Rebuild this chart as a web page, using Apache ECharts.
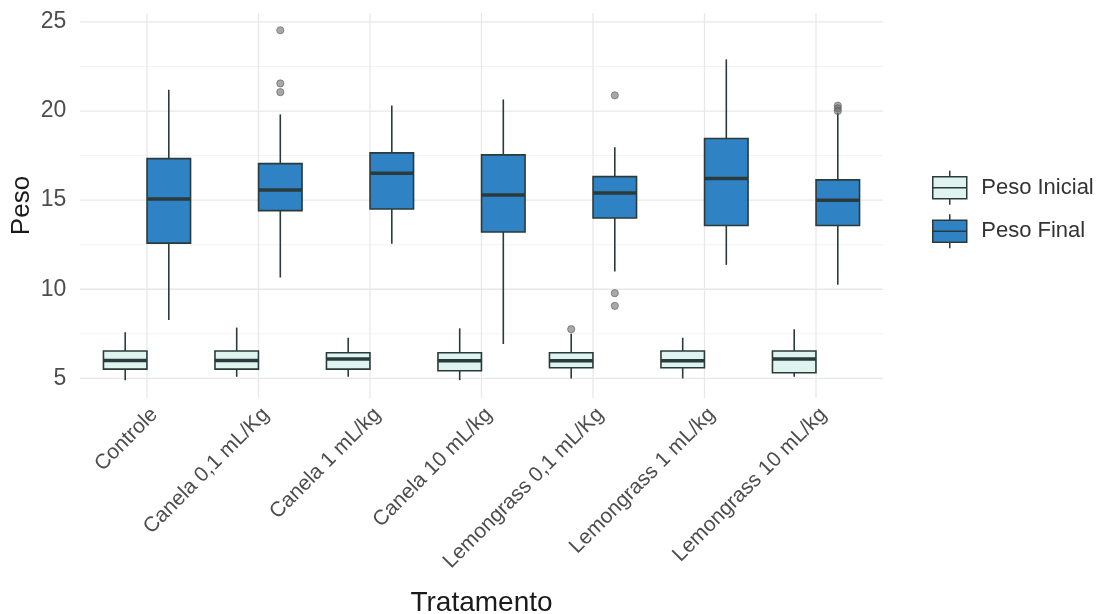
<!DOCTYPE html>
<html>
<head>
<meta charset="utf-8">
<script src="https://cdn.jsdelivr.net/npm/echarts@6/dist/echarts.min.js"></script>
<style>html,body{margin:0;padding:0;background:#fff;}#c{width:1104px;height:614px;}</style>
</head>
<body>
<div id="c"></div>
<script>
const categories = ['Controle', 'Canela 0,1 mL/Kg', 'Canela 1 mL/kg', 'Canela 10 mL/kg', 'Lemongrass 0,1 mL/Kg', 'Lemongrass 1 mL/kg', 'Lemongrass 10 mL/kg'];
// [lower whisker, Q1, median, Q3, upper whisker]
const pesoInicial = [
  [4.90, 5.52, 6.01, 6.54, 7.59],
  [5.09, 5.52, 6.01, 6.54, 7.85],
  [5.09, 5.52, 6.09, 6.44, 7.28],
  [4.90, 5.43, 5.99, 6.44, 7.81],
  [5.00, 5.60, 5.99, 6.44, 7.50],
  [5.00, 5.60, 5.99, 6.54, 7.28],
  [5.09, 5.32, 6.09, 6.54, 7.76]
];
const pesoFinal = [
  [8.28, 12.59, 15.07, 17.33, 21.20],
  [10.66, 14.41, 15.57, 17.05, 19.81],
  [12.55, 14.50, 16.51, 17.65, 20.31],
  [6.93, 13.21, 15.29, 17.54, 20.65],
  [11.00, 14.00, 15.40, 16.32, 17.97],
  [11.37, 13.58, 16.21, 18.46, 22.90],
  [10.25, 13.58, 14.99, 16.14, 19.90]
];
// [category index, value]
const outliersInicial = [[4, 7.76]];
const outliersFinal = [[1, 24.53], [1, 21.55], [1, 21.06], [4, 20.88], [4, 9.78], [4, 9.07], [6, 20.30], [6, 20.15], [6, 20.00]];
const yTicks = [5, 10, 15, 20, 25];
const yMinor = [7.5, 12.5, 17.5, 22.5];
const seriesNames = ['Peso Inicial', 'Peso Final'];

const Y_MIN = 3.9, Y_MAX = 25.5;
const colInicial = '#dff3ef';
const colFinal = '#2f83c5';
const edge = '#2b3b3b';
const boxPct = 0.39;
const EXPAND = 0.6;
const FONT = 'Liberation Sans, Arial, sans-serif';

function offsetFor(bandWidth, idx) {
  const avail = bandWidth * 0.8 - 2;
  return (idx === 0 ? -1 : 1) * avail / 4;
}

function boxRender(idx, fill) {
  return function (params, api) {
    const i = api.value(0);
    const bw = api.size([1, 0])[0];
    const cx = api.coord([i, 0])[0] + offsetFor(bw, idx);
    const w = bw * boxPct;
    const yLo = api.coord([i, api.value(1)])[1];
    const yQ1 = api.coord([i, api.value(2)])[1];
    const yMed = api.coord([i, api.value(3)])[1];
    const yQ3 = api.coord([i, api.value(4)])[1];
    const yHi = api.coord([i, api.value(5)])[1];
    const lineStyle = { stroke: edge, lineWidth: 1.6 };
    return {
      type: 'group',
      children: [
        { type: 'line', shape: { x1: cx, y1: yHi, x2: cx, y2: yQ3 }, style: lineStyle },
        { type: 'line', shape: { x1: cx, y1: yQ1, x2: cx, y2: yLo }, style: lineStyle },
        { type: 'rect', shape: { x: cx - w / 2, y: yQ3, width: w, height: yQ1 - yQ3 }, style: { fill: fill, stroke: edge, lineWidth: 1.6 } },
        { type: 'line', shape: { x1: cx - w / 2, y1: yMed, x2: cx + w / 2, y2: yMed }, style: { stroke: edge, lineWidth: 3.5 } }
      ]
    };
  };
}
function outlierRender(idx) {
  return function (params, api) {
    const p = api.coord([api.value(0), api.value(1)]);
    const bw = api.size([1, 0])[0];
    return {
      type: 'circle',
      shape: { cx: p[0] + offsetFor(bw, idx), cy: p[1], r: 3.6 },
      style: { fill: 'rgba(110,110,110,0.6)', stroke: 'rgba(90,90,90,0.6)', lineWidth: 1 }
    };
  };
}
function hGridRender(params, api) {
  const bw = api.size([1, 0])[0];
  const x0 = api.coord([0, 0])[0] - EXPAND * bw;
  const x1 = api.coord([categories.length - 1, 0])[0] + EXPAND * bw;
  const v = api.value(0);
  const y = api.coord([0, v])[1];
  const major = api.value(1) === 1;
  return {
    type: 'line',
    shape: { x1: x0, y1: y, x2: x1, y2: y },
    style: { stroke: major ? '#e8e8e8' : '#f3f3f3', lineWidth: major ? 1.3 : 1 }
  };
}
function vGridRender(params, api) {
  const i = api.value(0);
  const x = api.coord([i, Y_MIN])[0];
  const y0 = api.coord([i, Y_MIN])[1];
  const y1 = api.coord([i, Y_MAX])[1];
  return {
    type: 'line',
    shape: { x1: x, y1: y0, x2: x, y2: y1 },
    style: { stroke: '#e8e8e8', lineWidth: 1.3 }
  };
}

const legendIcon = 'path://M0,6 L34,6 L34,28 L0,28 Z M0,17 L34,17 M17,0 L17,6 M17,28 L17,34';

const chart = echarts.init(document.getElementById('c'));
chart.setOption({
  animation: false,
  backgroundColor: '#ffffff',
  textStyle: { fontFamily: FONT },
  grid: { left: 91.25, right: 232.25, top: 13, bottom: 216, outerBoundsMode: 'none', containLabel: false },
  legend: {
    orient: 'vertical',
    left: 927,
    top: 165,
    itemWidth: 35,
    itemHeight: 34,
    itemGap: 8,
    data: [
      { name: seriesNames[0], icon: legendIcon, itemStyle: { color: colInicial, borderColor: edge, borderWidth: 1.5 } },
      { name: seriesNames[1], icon: legendIcon, itemStyle: { color: colFinal, borderColor: edge, borderWidth: 1.5 } }
    ],
    textStyle: { fontSize: 22, color: '#333333', fontFamily: FONT, padding: [0, 0, 0, 9] }
  },
  xAxis: {
    type: 'category',
    data: categories,
    name: 'Tratamento',
    nameLocation: 'middle',
    nameGap: 191,
    nameTextStyle: { fontSize: 28, color: '#1a1a1a', fontFamily: FONT },
    axisLine: { show: false },
    axisTick: { show: false },
    splitLine: { show: false },
    axisLabel: { rotate: 45, fontSize: 21, color: '#4d4d4d', margin: 6, interval: 0, verticalAlign: 'top', fontFamily: FONT }
  },
  yAxis: {
    type: 'value',
    min: Y_MIN,
    max: Y_MAX,
    name: 'Peso',
    nameLocation: 'middle',
    nameGap: 56,
    nameMoveOverlap: false,
    nameTextStyle: { fontSize: 26, color: '#1a1a1a', fontFamily: FONT },
    axisLine: { show: false },
    axisTick: { show: false, customValues: yTicks },
    splitLine: { show: false },
    axisLabel: { fontSize: 23, color: '#4d4d4d', margin: 25, customValues: yTicks, fontFamily: FONT }
  },
  series: [
    {
      type: 'custom', name: 'hgrid', silent: true, z: 0, clip: false,
      data: yTicks.map(v => [v, 1]).concat(yMinor.map(v => [v, 0])),
      encode: { x: -1, y: 0 },
      renderItem: hGridRender
    },
    {
      type: 'custom', name: 'vgrid', silent: true, z: 0, clip: false,
      data: categories.map((c, i) => [i]),
      encode: { x: 0 },
      renderItem: vGridRender
    },
    {
      type: 'custom', name: seriesNames[0], z: 3,
      itemStyle: { color: colInicial },
      data: pesoInicial.map((d, i) => [i].concat(d)),
      encode: { x: 0, y: [1, 2, 3, 4, 5] },
      renderItem: boxRender(0, colInicial)
    },
    {
      type: 'custom', name: seriesNames[1], z: 3,
      itemStyle: { color: colFinal },
      data: pesoFinal.map((d, i) => [i].concat(d)),
      encode: { x: 0, y: [1, 2, 3, 4, 5] },
      renderItem: boxRender(1, colFinal)
    },
    {
      type: 'custom', name: 'outInicial', silent: true, z: 5,
      data: outliersInicial,
      renderItem: outlierRender(0)
    },
    {
      type: 'custom', name: 'outFinal', silent: true, z: 5,
      data: outliersFinal,
      renderItem: outlierRender(1)
    }
  ]
});
</script>
</body>
</html>
